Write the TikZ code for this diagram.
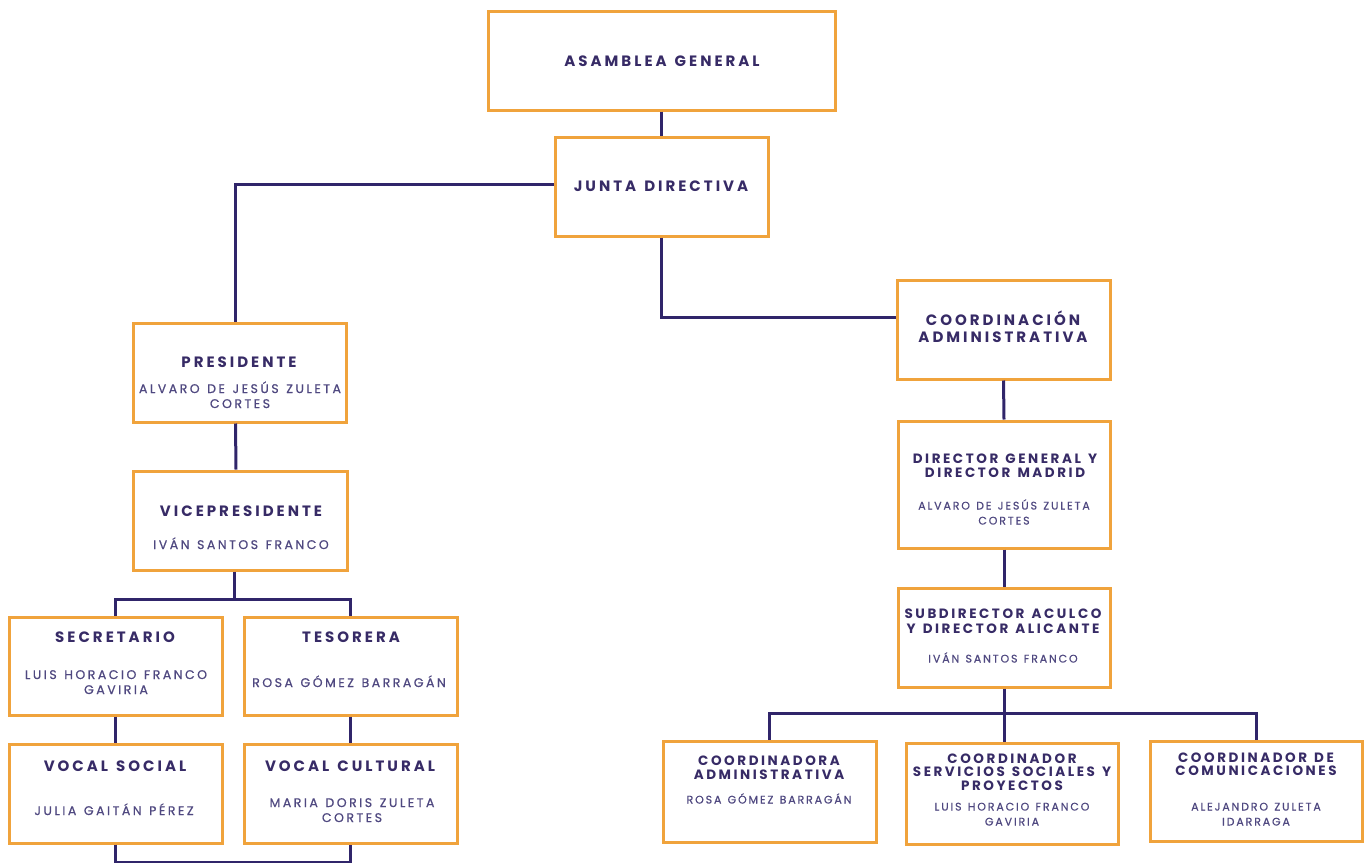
\documentclass[tikz,border=0pt]{standalone}
\usepackage{fontspec}
\newfontfamily\hdfont[LetterSpace=20,WordSpace=1.3]{Poppins}
\newfontfamily\rtfont[LetterSpace=19,WordSpace=1.3]{Poppins}
\newfontfamily\nmLfont[LetterSpace=20,WordSpace=1.3,FakeBold=0.6]{Poppins}
\newfontfamily\nmRfont[LetterSpace=17,WordSpace=1.3,FakeBold=0.5]{Poppins}
\definecolor{orgc}{HTML}{F0A33C}
\definecolor{ttlc}{HTML}{372B66}
\definecolor{nmc}{HTML}{4F4880}
\definecolor{lnc}{HTML}{30256A}
\tikzset{
  box/.style={draw=orgc, line width=3pt, fill=white, inner sep=0pt},
  conn/.style={draw=lnc, line width=3pt},
  ttlL/.style={anchor=base, inner sep=0pt, text=ttlc, font=\hdfont\bfseries\fontsize{15}{15}\selectfont},
  ttlR/.style={anchor=base, inner sep=0pt, text=ttlc, font=\rtfont\bfseries\fontsize{13.5}{13.5}\selectfont},
  nmL/.style={anchor=base, inner sep=0pt, text=nmc, font=\nmLfont\fontsize{12.5}{12.5}\selectfont},
  nmR/.style={anchor=base, inner sep=0pt, text=nmc, font=\nmRfont\fontsize{11}{11}\selectfont}
}
\begin{document}
\begin{tikzpicture}[x=1pt,y=-1pt]
\fill[white] (0,0) rectangle (1370,862);
\useasboundingbox (0,0) rectangle (1370,862);
\coordinate (bot) at (0,862);
% boxes
\node[box, minimum width=347pt, minimum height=99pt] (asm) at (661.5,60.5) {};
\node[box, minimum width=213pt, minimum height=99pt] (jun) at (661.5,186.5) {};
\node[box, minimum width=213pt, minimum height=99pt] (pres) at (239.5,372.5) {};
\node[box, minimum width=214pt, minimum height=99pt] (vice) at (240,520.5) {};
\node[box, minimum width=213pt, minimum height=98pt] (sec) at (115.5,666) {};
\node[box, minimum width=213pt, minimum height=98pt] (tes) at (350.5,666) {};
\node[box, minimum width=213pt, minimum height=99pt] (vs) at (115.5,793.5) {};
\node[box, minimum width=213pt, minimum height=99pt] (vc) at (350.5,793.5) {};
\node[box, minimum width=213pt, minimum height=99pt] (coord) at (1003.5,329.5) {};
\node[box, minimum width=212pt, minimum height=127pt] (dg) at (1004,484.5) {};
\node[box, minimum width=212pt, minimum height=99pt] (sub) at (1004,637.5) {};
\node[box, minimum width=213pt, minimum height=101pt] (ca) at (769.5,791.5) {};
\node[box, minimum width=212pt, minimum height=101pt] (sv) at (1012,793.5) {};
\node[box, minimum width=212pt, minimum height=100pt] (cc) at (1256,791) {};
% connectors
\draw[conn] (asm.south) -- (jun.north);
\draw[conn] ([yshift=2pt]jun.west) -| ([xshift=-4pt]pres.north);
\draw[conn] (jun.south) |- ([yshift=12pt]coord.west);
\draw[conn] ([xshift=-4pt]pres.south) -- ([xshift=-4pt]vice.north);
\draw[conn] ([xshift=-6pt]vice.south) -- ++(0,28) coordinate (vj) -| (sec.north);
\draw[conn] (vj) -| (tes.north);
\draw[conn] (sec.south) -- (vs.north);
\draw[conn] (tes.south) -- (vc.north);
\draw[conn] (vs.south) |- (vc.south |- bot) -- (vc.south);
\draw[conn] (coord.south) -- (dg.north);
\draw[conn] (dg.south) -- (sub.north);
\draw[conn] (sub.south) -- ++(0,25) coordinate (sj) -| (ca.north);
\draw[conn] (sj) -| (cc.north);
\draw[conn] (sj) -- (sj |- sv.north);
% texts
\node[ttlL] (asmT) at (662,66) {ASAMBLEA GENERAL};
\node[ttlL] (junT) at (661,191) {JUNTA DIRECTIVA};
\node[ttlL] (presT) at (239,367) {PRESIDENTE};
\node[nmL] (presN1) at (240,393) {ALVARO DE JESÚS ZULETA};
\node[nmL] (presN2) at (240,408) {CORTES};
\node[ttlL] (viceT) at (241,516) {VICEPRESIDENTE};
\node[nmL] (viceN) at (241,549) {IVÁN SANTOS FRANCO};
\node[ttlL] (secT) at (115,642) {SECRETARIO};
\node[nmL] (secN1) at (116,679) {LUIS HORACIO FRANCO};
\node[nmL] (secN2) at (116,694) {GAVIRIA};
\node[ttlL] (tesT) at (351,642) {TESORERA};
\node[nmL] (tesN) at (349,687) {ROSA GÓMEZ BARRAGÁN};
\node[ttlL] (vsT) at (115,771) {VOCAL SOCIAL};
\node[nmL] (vsN) at (114,815) {JULIA GAITÁN PÉREZ};
\node[ttlL] (vcT) at (350,771) {VOCAL CULTURAL};
\node[nmL] (vcN1) at (352,807) {MARIA DORIS ZULETA};
\node[nmL] (vcN2) at (352,822) {CORTES};
\node[ttlL] (coordT1) at (1003,325) {COORDINACIÓN};
\node[ttlL] (coordT2) at (1003,342) {ADMINISTRATIVA};
\node[ttlR] (dgT1) at (1005,463.5) {DIRECTOR GENERAL Y};
\node[ttlR] (dgT2) at (1005,477.5) {DIRECTOR MADRID};
\node[nmR] (dgN1) at (1004,509.5) {ALVARO DE JESÚS ZULETA};
\node[nmR] (dgN2) at (1004,524.5) {CORTES};
\node[ttlR] (subT1) at (1003,618.5) {SUBDIRECTOR ACULCO};
\node[ttlR] (subT2) at (1003,633.5) {Y DIRECTOR ALICANTE};
\node[nmR] (subN) at (1003,662.5) {IVÁN SANTOS FRANCO};
\node[ttlR] (caT1) at (769,765.5) {COORDINADORA};
\node[ttlR] (caT2) at (769,779.5) {ADMINISTRATIVA};
\node[nmR] (caN) at (769,803.5) {ROSA GÓMEZ BARRAGÁN};
\node[ttlR] (svT1) at (1012,763.5) {COORDINADOR};
\node[ttlR] (svT2) at (1012,776.5) {SERVICIOS SOCIALES Y};
\node[ttlR] (svT3) at (1012,790.5) {PROYECTOS};
\node[nmR] (svN1) at (1012,810.5) {LUIS HORACIO FRANCO};
\node[nmR] (svN2) at (1012,825.5) {GAVIRIA};
\node[ttlR] (ccT1) at (1256,762.5) {COORDINADOR DE};
\node[ttlR] (ccT2) at (1256,775.5) {COMUNICACIONES};
\node[nmR] (ccN1) at (1256,810.5) {ALEJANDRO ZULETA};
\node[nmR] (ccN2) at (1256,825.5) {IDARRAGA};
\end{tikzpicture}
\end{document}
